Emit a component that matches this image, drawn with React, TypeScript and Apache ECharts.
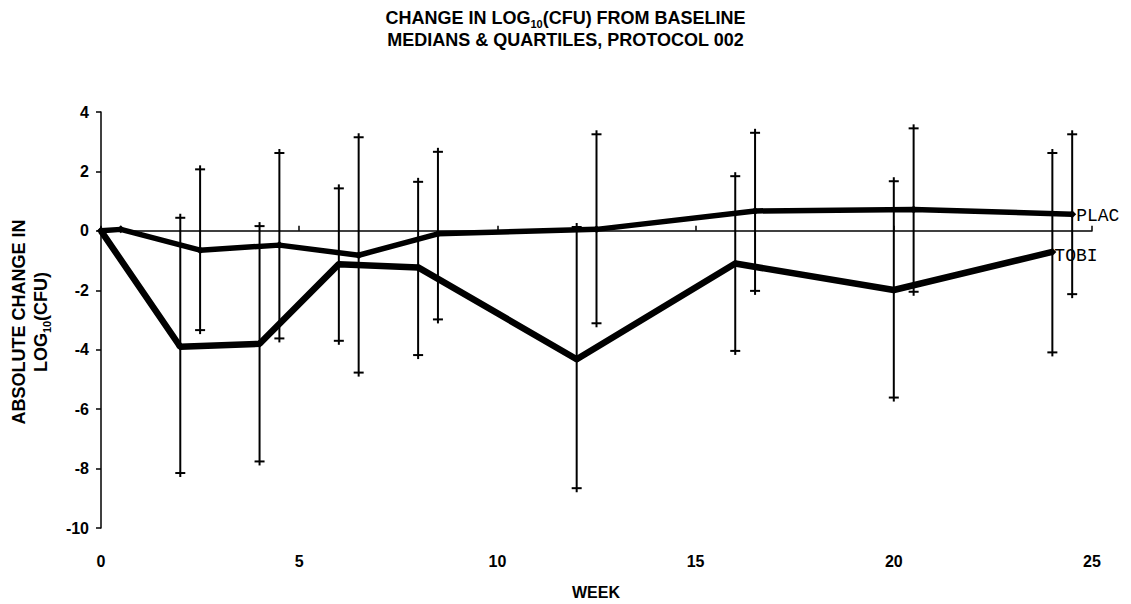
import React, { useEffect, useRef } from "react";
import * as echarts from "echarts";

// ---- data ----
const tobiWeeks = [0, 2, 4, 6, 8, 12, 16, 20, 24];
const tobiMedian = [0, -3.9, -3.8, -1.12, -1.23, -4.32, -1.1, -1.99, -0.71];
const tobiLowerQ = [null, -8.15, -7.76, -3.7, -4.18, -8.66, -4.04, -5.61, -4.09];
const tobiUpperQ = [null, 0.44, 0.16, 1.43, 1.65, 0.13, 1.84, 1.67, 2.62];

const placWeeks = [0, 0.5, 2.5, 4.5, 6.5, 8.5, 12.5, 16.5, 20.5, 24.5];
const placMedian = [0, 0.05, -0.65, -0.48, -0.82, -0.1, 0.05, 0.67, 0.72, 0.56];
const placLowerQ = [null, null, -3.34, -3.62, -4.77, -2.98, -3.11, -2.02, -2.05, -2.13];
const placUpperQ = [null, null, 2.07, 2.62, 3.15, 2.66, 3.25, 3.3, 3.45, 3.25];

const xTicks = { min: 0, max: 25, interval: 5 };
const yTicks = { min: -10, max: 4, interval: 2 };

const SANS = "'Liberation Sans', Arial, Helvetica, sans-serif";
const MONO = "'Liberation Mono', 'Courier New', monospace";

function pairs(xs: number[], ys: number[]) {
  return xs.map((x, i) => [x, ys[i]]);
}
function bars(xs: number[], lo: (number | null)[], hi: (number | null)[]) {
  const out: number[][] = [];
  xs.forEach((x, i) => {
    if (lo[i] != null && hi[i] != null) out.push([x, lo[i] as number, hi[i] as number]);
  });
  return out;
}

const renderBar = (params: any, api: any) => {
  const x = api.value(0);
  const lo = api.coord([x, api.value(1)]);
  const hi = api.coord([x, api.value(2)]);
  const st = { stroke: "#000", lineWidth: 2 };
  const cap = 5;
  const ext = 4;
  return {
    type: "group",
    children: [
      { type: "line", shape: { x1: lo[0], y1: hi[1] - ext, x2: lo[0], y2: lo[1] + ext }, style: st },
      { type: "line", shape: { x1: lo[0] - cap, y1: hi[1], x2: lo[0] + cap, y2: hi[1] }, style: st },
      { type: "line", shape: { x1: lo[0] - cap, y1: lo[1], x2: lo[0] + cap, y2: lo[1] }, style: st },
    ],
  };
};

export default function App() {
  const ref = useRef<HTMLDivElement>(null);
  useEffect(() => {
    document.body.style.margin = "0";
    const chart = echarts.init(ref.current!, null, { renderer: "svg" });
    const labelStyle = { color: "#000", fontFamily: SANS, fontWeight: "bold" as const, fontSize: 16 };
    chart.setOption({
      animation: false,
      backgroundColor: "#fff",
      title: {
        text: "CHANGE IN LOG{sub|10}(CFU) FROM BASELINE\nMEDIANS & QUARTILES, PROTOCOL 002",
        left: "center",
        top: 2,
        textStyle: {
          color: "#000",
          fontFamily: SANS,
          fontWeight: "bold",
          fontSize: 18,
          lineHeight: 22,
          rich: {
            sub: { fontFamily: SANS, fontWeight: "bold", fontSize: 11, lineHeight: 12, verticalAlign: "bottom", color: "#000" },
          },
        },
      },
      grid: { left: 101, right: 39, top: 112, bottom: 76, containLabel: false },
      xAxis: [
        {
          type: "value",
          ...xTicks,
          axisLine: { onZero: true, lineStyle: { color: "#000", width: 1.5 } },
          axisTick: { inside: true, length: 5, lineStyle: { color: "#000", width: 1.5 } },
          axisLabel: { show: false },
          splitLine: { show: false },
        },
        {
          type: "value",
          ...xTicks,
          position: "bottom",
          axisLine: { show: false, onZero: false },
          axisTick: { show: false },
          axisLabel: { ...labelStyle, margin: 25 },
          splitLine: { show: false },
        },
      ],
      yAxis: {
        type: "value",
        ...yTicks,
        axisLine: { show: true, onZero: false, lineStyle: { color: "#000", width: 1.5 } },
        axisTick: { show: true, length: 5, lineStyle: { color: "#000", width: 1.5 } },
        axisLabel: { ...labelStyle, margin: 12 },
        splitLine: { show: false },
      },
      graphic: [
        {
          type: "text",
          x: 30,
          y: 322,
          rotation: Math.PI / 2,
          style: {
            text: "ABSOLUTE CHANGE IN\nLOG{sub|10}(CFU)",
            align: "center",
            verticalAlign: "middle",
            fill: "#000",
            font: `bold 18px ${SANS}`,
            lineHeight: 22,
            rich: {
              sub: { font: `bold 11px ${SANS}`, lineHeight: 12, verticalAlign: "bottom", fill: "#000" },
            },
          },
        },
        {
          type: "text",
          x: 596,
          y: 592,
          style: { text: "WEEK", align: "center", verticalAlign: "middle", fill: "#000", font: `bold 16px ${SANS}` },
        },
      ],
      series: [
        {
          name: "TOBI quartiles",
          type: "custom",
          xAxisIndex: 0,
          renderItem: renderBar,
          encode: { x: 0, y: [1, 2] },
          data: bars(tobiWeeks, tobiLowerQ, tobiUpperQ),
          clip: false,
          z: 2,
        },
        {
          name: "PLAC quartiles",
          type: "custom",
          xAxisIndex: 0,
          renderItem: renderBar,
          encode: { x: 0, y: [1, 2] },
          data: bars(placWeeks, placLowerQ, placUpperQ),
          clip: false,
          z: 2,
        },
        {
          name: "TOBI",
          type: "line",
          xAxisIndex: 0,
          data: pairs(tobiWeeks, tobiMedian),
          symbol: "diamond",
          symbolSize: 8,
          itemStyle: { color: "#000" },
          lineStyle: { color: "#000", width: 6.5 },
          z: 3,
          endLabel: {
            show: true,
            formatter: "TOBI",
            color: "#000",
            fontFamily: MONO,
            fontSize: 18,
            distance: 2,
            offset: [0, 4],
          },
        },
        {
          name: "PLAC",
          type: "line",
          xAxisIndex: 0,
          data: pairs(placWeeks, placMedian),
          symbol: "diamond",
          symbolSize: 8,
          itemStyle: { color: "#000" },
          lineStyle: { color: "#000", width: 5.5 },
          z: 3,
          endLabel: {
            show: true,
            formatter: "PLAC",
            color: "#000",
            fontFamily: MONO,
            fontSize: 18,
            distance: 4,
            offset: [0, 2],
          },
        },
      ],
    });
    return () => chart.dispose();
  }, []);
  return <div ref={ref} style={{ width: 1131, height: 604 }} />;
}
